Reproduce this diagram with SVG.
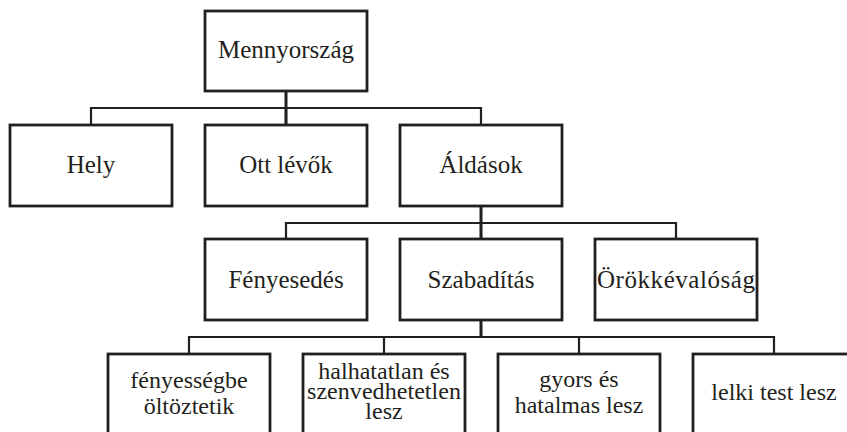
<svg xmlns="http://www.w3.org/2000/svg" width="847" height="432" viewBox="0 0 847 432">
<style>
.box{fill:#fff;stroke:#231f20;stroke-width:2.8}
.t{font-family:"Liberation Serif","Times New Roman",serif;font-size:25px;fill:#231f20;text-anchor:middle}
.s{font-size:24px}
.xs{font-size:22px}
.c{fill:none;stroke:#231f20;stroke-width:2.2}
.trunk{fill:none;stroke:#231f20;stroke-width:3}
</style>
<rect width="847" height="432" fill="#fff"/>
<g id="connectors">
<path class="c" d="M91 125V108H481V125M286 108V125"/>
<path class="trunk" d="M286 91V125"/>
<path class="c" d="M286 239V223H676V239M481 223V239"/>
<path class="trunk" d="M481 206V239"/>
<path class="c" d="M189 354V337H774V354M384 337V354M579 337V354"/>
<path class="trunk" d="M481 320V337"/>
</g>
<g id="mennyorszag"><rect class="box" x="205" y="11" width="162" height="80"/><text class="t" x="286" y="58">Mennyország</text></g>
<g id="hely"><rect class="box" x="10" y="125" width="162" height="81"/><text class="t" x="91" y="173">Hely</text></g>
<g id="ott-levok"><rect class="box" x="205" y="125" width="162" height="81"/><text class="t" x="286" y="173">Ott lévők</text></g>
<g id="aldasok"><rect class="box" x="400" y="125" width="162" height="81"/><text class="t" x="481" y="173">Áldások</text></g>
<g id="fenyesedes"><rect class="box" x="205" y="239" width="162" height="81"/><text class="t" x="286" y="288">Fényesedés</text></g>
<g id="szabaditas"><rect class="box" x="400" y="239" width="162" height="81"/><text class="t" x="481" y="288">Szabadítás</text></g>
<g id="orokkevalosag"><rect class="box" x="595" y="239" width="162" height="81"/><text class="t" x="676" y="288" textLength="158">Örökkévalóság</text></g>
<g id="fenyessegbe"><rect class="box" x="108" y="354" width="162" height="81"/><text class="t s" x="189" y="388">fényességbe</text><text class="t s" x="189" y="414">öltöztetik</text></g>
<g id="halhatatlan"><rect class="box" x="303" y="354" width="162" height="81"/><text class="t s" x="384" y="379">halhatatlan és</text><text class="t s" x="384" y="399" textLength="154">szenvedhetetlen</text><text class="t s" x="384" y="419">lesz</text></g>
<g id="gyors"><rect class="box" x="498" y="354" width="162" height="81"/><text class="t s" x="579" y="387">gyors és</text><text class="t s" x="579" y="413">hatalmas lesz</text></g>
<g id="lelki"><rect class="box" x="693" y="354" width="162" height="81"/><text class="t s" x="774" y="400">lelki test lesz</text></g>
</svg>
